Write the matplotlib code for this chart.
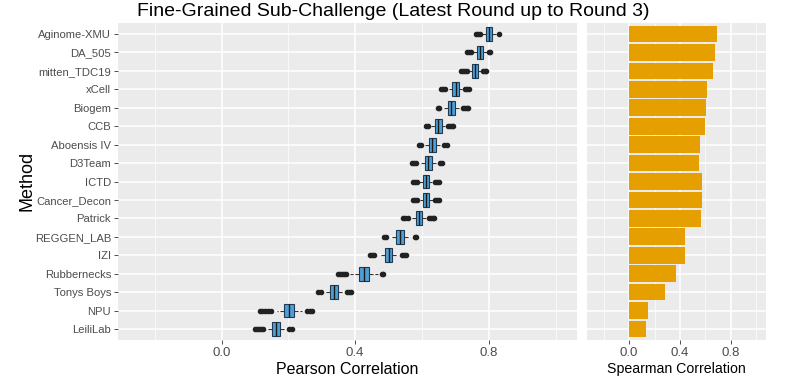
import matplotlib
matplotlib.use("Agg")
import matplotlib.pyplot as plt
import numpy as np

plt.rcParams['font.family'] = ['Liberation Sans', 'DejaVu Sans']

methods = ['Aginome-XMU', 'DA_505', 'mitten_TDC19', 'xCell', 'Biogem', 'CCB',
           'Aboensis IV', 'D3Team', 'ICTD', 'Cancer_Decon', 'Patrick',
           'REGGEN_LAB', 'IZI', 'Rubbernecks', 'Tonys Boys', 'NPU', 'LeiliLab']

# bootstrap Pearson distribution summary
q1  = [.792, .765, .751, .691, .678, .638, .620, .609, .603, .604, .581, .523, .489, .411, .326, .187, .152]
med = [.802, .774, .760, .701, .688, .649, .631, .619, .612, .613, .590, .534, .500, .425, .337, .201, .164]
q3  = [.811, .783, .769, .711, .698, .660, .641, .629, .621, .622, .599, .545, .511, .440, .349, .216, .176]
wlo = [.781, .754, .742, .680, .665, .626, .608, .596, .592, .593, .568, .508, .470, .385, .310, .165, .132]
whi = [.824, .794, .777, .721, .710, .669, .655, .642, .631, .632, .611, .565, .528, .468, .363, .240, .193]
fliers_lo = [[.763, .768, .773], [.734, .740, .746], [.717, .723, .729, .735],
             [.657, .663, .670], [.647, .652], [.611, .619], [.592, .597],
             [.569, .575, .582], [.572, .578, .584], [.573, .579, .584],
             [.544, .550, .557], [.486, .493], [.444, .450, .457],
             [.350, .356, .362, .368, .373], [.290, .297],
             [.115, .122, .130, .138, .147], [.100, .106, .112, .118, .123]]
fliers_hi = [[.830], [.801, .804], [.782, .788, .793], [.729, .736, .740],
             [.722, .728, .734, .738], [.677, .684, .691, .694], [.666, .674],
             [.653, .661], [.639, .646, .650], [.640, .646, .650],
             [.622, .628, .634, .637], [.578, .582], [.539, .546, .553],
             [.479, .482], [.375, .381, .388], [.257, .264, .271], [.203, .212]]

spearman = [.693, .675, .656, .612, .607, .599, .557, .549, .575, .575, .561,
            .437, .437, .369, .280, .149, .133]

bg = '#EBEBEB'
txt = '#4D4D4D'

fig = plt.figure(figsize=(8, 3.88), dpi=100)
ax1 = fig.add_axes([118/800, 1-340/388, 459/800, 317/388])
ax2 = fig.add_axes([587/800, 1-340/388, 179/800, 317/388])

pos = np.arange(len(methods))

stats = []
for i in range(len(methods)):
    stats.append(dict(med=med[i], q1=q1[i], q3=q3[i], whislo=wlo[i], whishi=whi[i],
                      fliers=fliers_lo[i] + fliers_hi[i]))

ax1.bxp(stats, positions=pos, vert=False, widths=0.75, patch_artist=True,
        showcaps=False, manage_ticks=False,
        boxprops=dict(facecolor='#4E9FD6', edgecolor='#1F3A52', linewidth=0.8),
        medianprops=dict(color='#1A1A1A', linewidth=1.0),
        whiskerprops=dict(color='#333333', linestyle='--', linewidth=0.8),
        flierprops=dict(marker='o', markerfacecolor='#222222', markeredgecolor='#222222',
                        markersize=3, linestyle='none'))
ax2.barh(pos, spearman, height=0.9, color='#E69F00')

for ax in (ax1, ax2):
    ax.set_facecolor(bg)
    for s in ax.spines.values():
        s.set_visible(False)
    ax.set_axisbelow(True)
    ax.set_xticks([0.0, 0.4, 0.8])
    ax.set_xticks([-0.2, 0.2, 0.6, 1.0], minor=True)
    ax.set_xticklabels(['0.0', '0.4', '0.8'])
    ax.set_yticks(pos)
    ax.grid(True, which='major', color='white', linewidth=1.1)
    ax.grid(True, which='minor', axis='x', color='white', linewidth=0.5)
    ax.tick_params(axis='x', which='major', colors='#333333', labelcolor=txt,
                   length=3, width=0.6, labelsize=9.5, pad=2)
    ax.tick_params(axis='y', which='major', colors='#333333', labelcolor=txt,
                   length=3, width=0.6, labelsize=8.1, pad=2)
    ax.tick_params(axis='both', which='minor', length=0)
    ax.set_ylim(16.6, -0.6)

ax1.set_xlim(-0.31, 1.064)
ax1.set_yticklabels(methods)
ax1.set_xlabel('Pearson Correlation', fontsize=11.5, color='black', labelpad=2)

ax2.set_xlim(-0.33, 1.075)
ax2.set_yticklabels([])
ax2.tick_params(axis='y', length=0)
ax2.set_xlabel('Spearman Correlation', fontsize=10.2, color='black', labelpad=2)

fig.text(27/800, 1-181/388, 'Method', rotation=90, ha='center', va='center',
         fontsize=13, color='black')
fig.text(393/800, 1-11/388, 'Fine-Grained Sub-Challenge (Latest Round up to Round 3)',
         ha='center', va='center', fontsize=14, color='black')

fig.savefig('out.png', dpi=100, facecolor='white')
